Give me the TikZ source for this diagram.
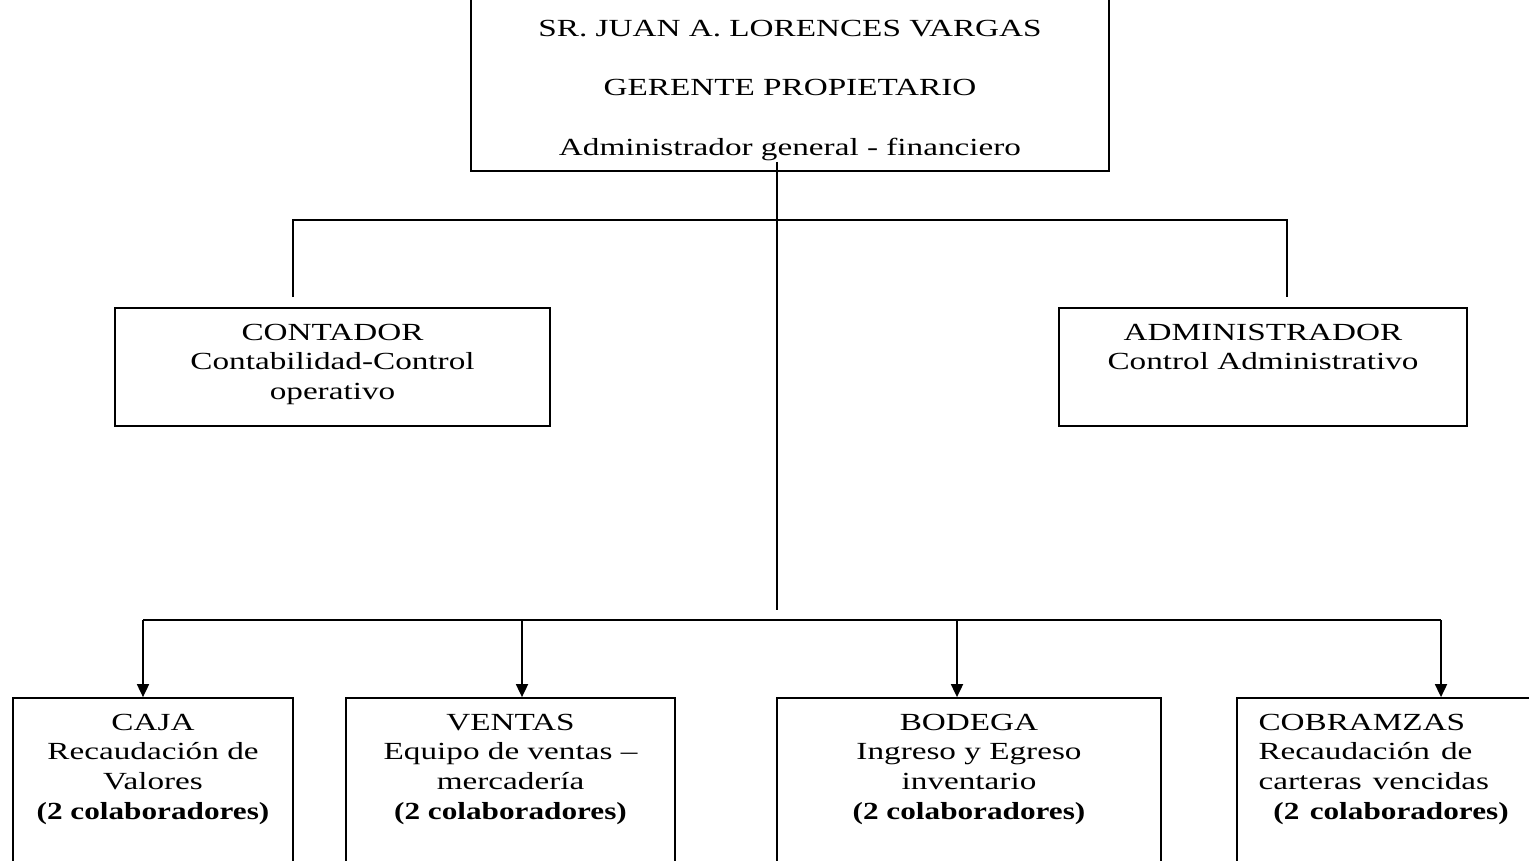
\documentclass[tikz,border=0pt]{standalone}
\usepackage{fontspec}
\setmainfont{Liberation Serif}
\usepackage{graphicx}
\usepackage{tikz}
\usetikzlibrary{arrows.meta,calc}

% texto ancho, como en el original
\newcommand{\ancho}[2][c]{\scalebox{1.35}[1]{\begin{tabular}[t]{@{}#1@{}}#2\end{tabular}}}
\newcommand{\colab}{\scalebox{0.94}[1]{\textbf{(2 colaboradores)}}}

\begin{document}
\begin{tikzpicture}
\tikzstyle{cargo}=[rectangle, draw, line width=1pt, inner sep=0pt,
    font=\fontsize{14}{17}\selectfont, text height=0.64cm]
\tikzstyle{flecha}=[line width=1pt, -{Triangle[length=0.26cm,width=0.24cm]}]
\tikzstyle{linea}=[line width=1pt]

\useasboundingbox (0,0) rectangle (30.58,-17.2);
\clip (0,0) rectangle (30.58,-17.2);

    \node[cargo, minimum width=12.76cm, text height=0.92cm,
    text depth=2.7cm] (gerente) at (15.8,-1.61)
    {\renewcommand\arraystretch{2}\ancho{SR. JUAN A. LORENCES VARGAS\\
     GERENTE PROPIETARIO\\ Administrador general - financiero}};

    \node[cargo, minimum width=8.7cm, text depth=1.72cm] (contador) at (6.65,-7.34)
    {\ancho{CONTADOR\\ Contabilidad-Control\\ operativo}};
    \node[cargo, minimum width=8.16cm, text depth=1.72cm] (admin) at (25.26,-7.34)
    {\ancho{ADMINISTRADOR\\ Control Administrativo}};

    \node[cargo, minimum width=5.6cm, text depth=3cm] (caja) at (3.06,-15.78)
    {\ancho{CAJA\\ Recaudación de\\ Valores\\ \colab}};
    \node[cargo, minimum width=6.58cm, text depth=3cm] (ventas) at (10.21,-15.78)
    {\ancho{VENTAS\\ Equipo de ventas –\\ mercadería\\ \colab}};
    \node[cargo, minimum width=7.68cm, text depth=3cm] (bodega) at (19.38,-15.78)
    {\ancho{BODEGA\\ Ingreso y Egreso\\ inventario\\ \colab}};
    \node[cargo, minimum width=6.46cm, text width=5.6cm, inner xsep=0.4cm,
    text depth=3cm] (cobranzas) at (27.97,-15.78)
    {\ancho[l]{COBRAMZAS\\ Recaudación de\\ carteras vencidas\\
     \hspace{0.22cm}\colab}};

% lineas de mando
\coordinate (bizq) at (5.86,-4.4);
\coordinate (bder) at (25.74,-4.4);
\coordinate (tronco) at (15.54,-12.2);
\draw[linea] ($(gerente.south -| tronco)+(0,0.2)$) -- (tronco);
\draw[linea] ($(contador.north -| bizq)+(0,0.2)$) -- (bizq) -- (bder)
    -- ($(admin.north -| bder)+(0,0.2)$);

\coordinate (bar1) at (2.86,-12.4);
\coordinate (bar4) at (28.82,-12.4);
\draw[linea] (bar1) -- (bar4);
\foreach \n/\x in {caja/2.86, ventas/10.44, bodega/19.14, cobranzas/28.82}{
    \coordinate (a\n) at (\x,-12.4);
    \draw[flecha] (a\n) -- (a\n |- \n.north);
}
\end{tikzpicture}
\end{document}
